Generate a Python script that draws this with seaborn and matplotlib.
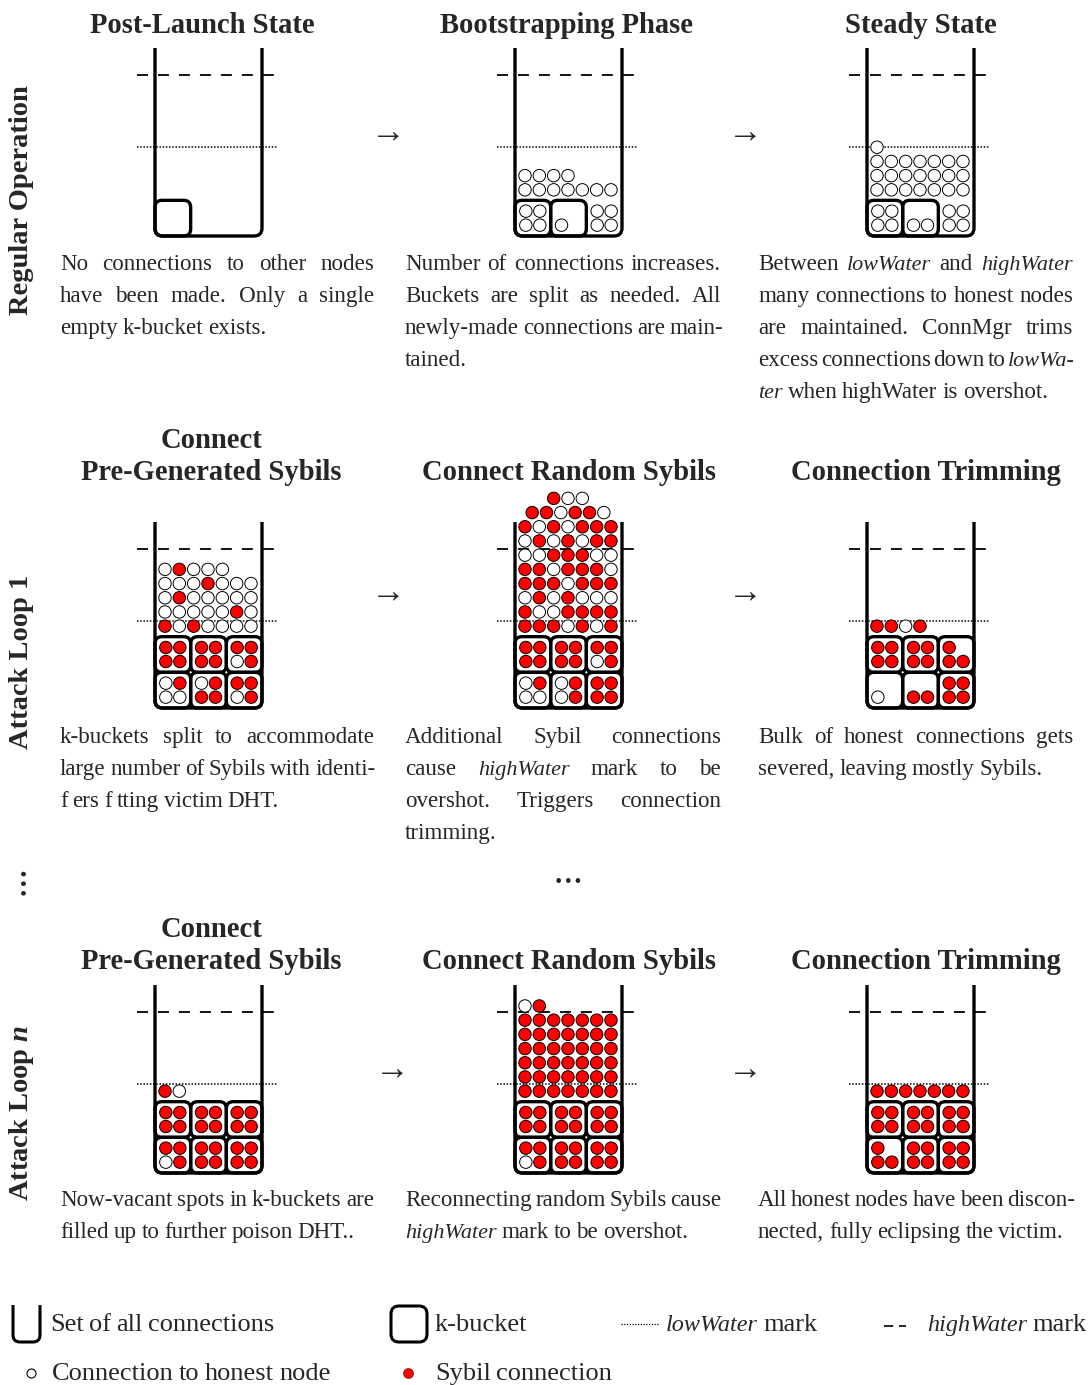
import numpy as np
import pandas as pd
import matplotlib
matplotlib.use("Agg")
import matplotlib.pyplot as plt
import seaborn as sns
from matplotlib.path import Path
from matplotlib.patches import PathPatch, FancyBboxPatch

# ------------------------------------------------------------------ data
row_labels = ["Regular Operation", "Attack Loop 1", "Attack Loop $n$"]
titles_regular = ["Post-Launch State", "Bootstrapping Phase", "Steady State"]
titles_attack = ["Connect\nPre-Generated Sybils", "Connect Random Sybils", "Connection Trimming"]

# k-buckets: bucket rows bottom->top, slots left->right
# "[abcd]" outlined bucket, "(abcd)" remaining region without outline, "" nothing
# contents order: top-left, top-right, bottom-left, bottom-right ; o honest, x sybil, . empty
launch_buckets = [["[....]", "", ""]]
boot_buckets = [["[oooo]", "[..o.]", "(oooo)"]]
steady_buckets = [["[oooo]", "[..oo]", "(oooo)"]]
l1_pre_buckets = [["[oxoo]", "[oxxx]", "[xxox]"], ["[xxxx]", "[xxxx]", "[xxox]"]]
l1_rand_buckets = [["[oxoo]", "[oxox]", "[xxxx]"], ["[xxxx]", "[xxxx]", "[xxox]"]]
l1_trim_buckets = [["[..o.]", "[..xx]", "[xxxx]"], ["[xxxx]", "[xxxx]", "[x.xx]"]]
ln_pre_buckets = [["[xxox]", "[xxxx]", "[xxxx]"], ["[xxxx]", "[xxxx]", "[xxxx]"]]
ln_rand_buckets = [["[xxox]", "[xxxx]", "[xxxx]"], ["[xxxx]", "[xxxx]", "[xxxx]"]]
ln_trim_buckets = [["[x.xx]", "[xxxx]", "[xxxx]"], ["[xxxx]", "[xxxx]", "[xxxx]"]]

# connections outside k-buckets: rows bottom->top ; ">" marks a staggered row
launch_free = []
boot_free = ["ooooooo", "oooo"]
steady_free = ["ooooooo", "ooooooo", "ooooooo", "o"]
l1_pre_free = ["xoxoooo", "oooooxo", "oxooooo", "oooxooo", "oxooo"]
l1_rand_free = ["xxxoxox", "xooxxxx", "oxoxooo", "xxxoxxx", "xxoxxxo",
                "ooxxxoo", "oxoxoxx", "xoxoxxx", ">xxoxxo", "..xoo"]
l1_trim_free = ["xxox"]
ln_pre_free = ["xo"]
ln_rand_free = ["xxxxxxx", "xxxxxxx", "xxxxxxx", "xxxxxxx", "xxxxxxx", "xxxxxxx", "ox"]
ln_trim_free = ["xxxxxxx"]

desc_launch = ["No connections to other nodes", "have been made.  Only a single", "empty k-bucket exists."]
desc_boot = ["Number of connections increases.", "Buckets are split as needed.  All",
             "newly-made connections are main-", "tained."]
desc_steady = ["Between *lowWater* and *highWater*", "many connections to honest nodes",
               "are maintained.  ConnMgr trims", "excess connections down to *lowWa-*",
               "*ter* when highWater is overshot."]
desc_l1_pre = ["k-buckets split to accommodate", "large number of Sybils with identi-",
               "f ers f tting victim DHT."]
desc_l1_rand = ["Additional  Sybil  connections", "cause *highWater* mark to be",
                "overshot. Triggers connection", "trimming."]
desc_l1_trim = ["Bulk of honest connections gets", "severed, leaving mostly Sybils."]
desc_ln_pre = ["Now-vacant spots in k-buckets are", "filled up to further poison DHT.."]
desc_ln_rand = ["Reconnecting random Sybils cause", "*highWater* mark to be overshot."]
desc_ln_trim = ["All honest nodes have been discon-", "nected, fully eclipsing the victim."]

legend_labels = ["Set of all connections", "k-bucket", "*lowWater* mark", "*highWater* mark",
                 "Connection to honest node", "Sybil connection"]

# ------------------------------------------------------------------ style
sns.set_theme(style="white")
plt.rcParams["font.family"] = ["Liberation Serif", "DejaVu Serif"]
plt.rcParams["mathtext.fontset"] = "custom"
plt.rcParams["mathtext.rm"] = "Liberation Serif:bold"
plt.rcParams["mathtext.it"] = "Liberation Serif:italic:bold"

RED = "#ff0000"
W_PX, H_PX = 1088, 1385
fig = plt.figure(figsize=(W_PX / 100, H_PX / 100), dpi=100)
fig.patch.set_facecolor("white")
ax = fig.add_axes([0, 0, 1, 1])
ax.set_xlim(0, W_PX)
ax.set_ylim(H_PX, 0)
ax.axis("off")
renderer = fig.canvas.get_renderer()

COL_L = [155, 515, 867]
CW = 107.0
ROW_TOP = [48, 522, 985]
ROW_BOT = [236, 708, 1173]
BW = CW / 3.0
LW_BOX = 2.4

circ_x, circ_y, circ_kind = [], [], []


def add_circle(x, y, ch):
    if ch in "ox":
        circ_x.append(x)
        circ_y.append(y)
        circ_kind.append("honest" if ch == "o" else "sybil")


def u_shape(L, R, top, bot, r=8, lw=LW_BOX):
    verts = [(L, top), (L, bot - r), (L, bot), (L + r, bot), (R - r, bot), (R, bot), (R, bot - r), (R, top)]
    codes = [Path.MOVETO, Path.LINETO, Path.CURVE3, Path.CURVE3, Path.LINETO,
             Path.CURVE3, Path.CURVE3, Path.LINETO]
    ax.add_patch(PathPatch(Path(verts, codes), fill=False, lw=lw, edgecolor="black",
                           capstyle="butt", joinstyle="round", zorder=4))


def draw_panel(col, row, buckets, free):
    L = COL_L[col]
    R = L + CW
    top, bot = ROW_TOP[row], ROW_BOT[row]
    hw, lwm = top + 27, top + 99
    lw_d = 1.3
    ax.plot([L - 18, R + 15], [hw, hw], color="black", lw=lw_d,
            ls=(0, (7.9 / lw_d, 7.2 / lw_d)), zorder=1, solid_capstyle="butt")
    ax.plot([L - 18, R + 16], [lwm, lwm], color="black", lw=1.1, ls=(0, (1, 1.1)), zorder=1)
    u_shape(L, R, top, bot)
    for i, brow in enumerate(buckets):
        yb = bot - i * BW
        yt = yb - BW
        for j, slot in enumerate(brow):
            if not slot:
                continue
            x0 = L + j * BW
            if slot[0] == "[":
                ax.add_patch(FancyBboxPatch((x0, yt), BW, BW, boxstyle="round,pad=0,rounding_size=7",
                                            fill=False, lw=LW_BOX, edgecolor="black", zorder=4))
            content = slot[1:-1]
            cx = x0 + BW / 2
            cy = yt + BW / 2
            pos = [(cx - 7, cy - 7), (cx + 7, cy - 7), (cx - 7, cy + 7), (cx + 7, cy + 7)]
            for (px, py), ch in zip(pos, content):
                add_circle(px, py, ch)
    stack_top = bot - len(buckets) * BW
    for r, srow in enumerate(free):
        y = stack_top - 10.5 - r * 14.2
        shift = 0.0
        if srow.startswith(">"):
            shift = 7.17
            srow = srow[1:]
        for c, ch in enumerate(srow):
            add_circle(L + 10 + c * 14.33 + shift, y, ch)


panels = [
    (0, 0, launch_buckets, launch_free), (1, 0, boot_buckets, boot_free), (2, 0, steady_buckets, steady_free),
    (0, 1, l1_pre_buckets, l1_pre_free), (1, 1, l1_rand_buckets, l1_rand_free), (2, 1, l1_trim_buckets, l1_trim_free),
    (0, 2, ln_pre_buckets, ln_pre_free), (1, 2, ln_rand_buckets, ln_rand_free), (2, 2, ln_trim_buckets, ln_trim_free),
]
for p in panels:
    draw_panel(*p)

# ------------------------------------------------------------------ circles (seaborn)
df = pd.DataFrame({"x": circ_x, "y": circ_y, "kind": circ_kind})
sns.scatterplot(data=df, x="x", y="y", hue="kind", palette={"honest": "white", "sybil": RED},
                s=80, edgecolor="black", linewidth=0.7, legend=False, ax=ax, zorder=5)
ax.set_xlim(0, W_PX)
ax.set_ylim(H_PX, 0)
ax.axis("off")

# ------------------------------------------------------------------ text helpers
BODY_FS = 16.6


def tokens(line):
    out = []
    for w in line.split():
        it = w.startswith("*") and w.endswith("*") and len(w) > 1
        out.append((w.strip("*") if it else w, it))
    return out


def text_width(s, fs, style="normal", weight="normal"):
    t = ax.text(0, 0, s, fontsize=fs, style=style, weight=weight)
    w = t.get_window_extent(renderer).width
    t.remove()
    return w


SPACE = 0.85 * (text_width("a a", BODY_FS) - text_width("aa", BODY_FS))


def draw_line(line, x0, x1, y, justify, fs=BODY_FS, space=None, it_fs=None):
    toks = tokens(line)
    it_fs = fs * 0.96 if it_fs is None else it_fs
    objs, widths = [], []
    for w, it in toks:
        t = ax.text(x0, y, w, fontsize=it_fs if it else fs, style="italic" if it else "normal",
                    ha="left", va="baseline", zorder=6)
        objs.append(t)
        widths.append(t.get_window_extent(renderer).width)
    sp = SPACE if space is None else space
    if justify and len(toks) > 1:
        gap = (x1 - x0 - sum(widths)) / (len(toks) - 1)
    else:
        gap = sp
    x = x0
    for t, w in zip(objs, widths):
        t.set_x(x)
        x += w + gap


TEXT_X = [(60, 374), (405, 721), (758, 1073)]
TEXT_Y0 = [270, 743, 1206]
descs = [[desc_launch, desc_boot, desc_steady],
         [desc_l1_pre, desc_l1_rand, desc_l1_trim],
         [desc_ln_pre, desc_ln_rand, desc_ln_trim]]
for r in range(3):
    for c in range(3):
        lines = descs[r][c]
        for k, ln in enumerate(lines):
            x1 = TEXT_X[c][1] + (2 if ln.rstrip("*").endswith("-") else 0)
            draw_line(ln, TEXT_X[c][0], x1, TEXT_Y0[r] + 32 * k, k < len(lines) - 1)

# titles
TITLE_FS = 20.6
for c, (t, x) in enumerate(zip(titles_regular, [202, 566, 921])):
    ax.text(x, 33, t, fontsize=TITLE_FS, weight="bold", ha="center", va="baseline")
for r, yb in zip([1, 2], [480, 969]):
    for c, (t, x) in enumerate(zip(titles_attack, [211, 569, 926])):
        parts = t.split("\n")
        for k, part in enumerate(reversed(parts)):
            ax.text(x, yb - 32 * k, part, fontsize=TITLE_FS, weight="bold", ha="center", va="baseline")

# row labels
for lab, yc in zip(row_labels, [200, 662, 1113]):
    ax.text(22, yc, lab, fontsize=20.5, weight="bold", rotation=90, ha="center", va="center")

# arrows
for (x, y) in [(388, 143), (745, 143), (388, 603), (745, 603), (392, 1080), (745, 1080)]:
    ax.text(x, y, "\u2192", fontsize=25, ha="center", va="baseline")

# ellipses
ax.text(568, 883, "\u2026", fontsize=20.6, weight="bold", ha="center", va="baseline")
ax.text(25, 881, "\u2026", fontsize=20.6, weight="bold", rotation=90, rotation_mode="anchor",
        ha="center", va="baseline")

# ------------------------------------------------------------------ legend
LEG_FS = 19.0
LEG_SPACE = 0.8 * (text_width("a a", LEG_FS) - text_width("aa", LEG_FS))
u_shape(13, 40, 1305, 1342, r=7, lw=2.2)
ax.add_patch(FancyBboxPatch((391, 1306), 36, 36, boxstyle="round,pad=0,rounding_size=8",
                            fill=False, lw=2.2, edgecolor="black", zorder=4))
ax.plot([621, 659], [1324, 1324], color="black", lw=0.9, ls=(0, (1, 1.2)))
ax.plot([884, 906], [1326, 1326], color="black", lw=1.2, ls=(0, (5.5, 3.5)))
ax.scatter([31], [1373], s=42, facecolor="white", edgecolor="black", linewidth=0.8, zorder=5)
ax.scatter([408], [1373], s=52, facecolor=RED, edgecolor="#600000", linewidth=0.4, zorder=5)
leg_pos = [(50, 1331), (435, 1331), (666, 1331), (927, 1331), (52, 1380), (435, 1380)]
for lab, (x, y) in zip(legend_labels, leg_pos):
    draw_line(lab, x, x + 400, y, False, fs=LEG_FS, space=LEG_SPACE, it_fs=17.4)

fig.savefig("out.png", dpi=100, facecolor="white")
